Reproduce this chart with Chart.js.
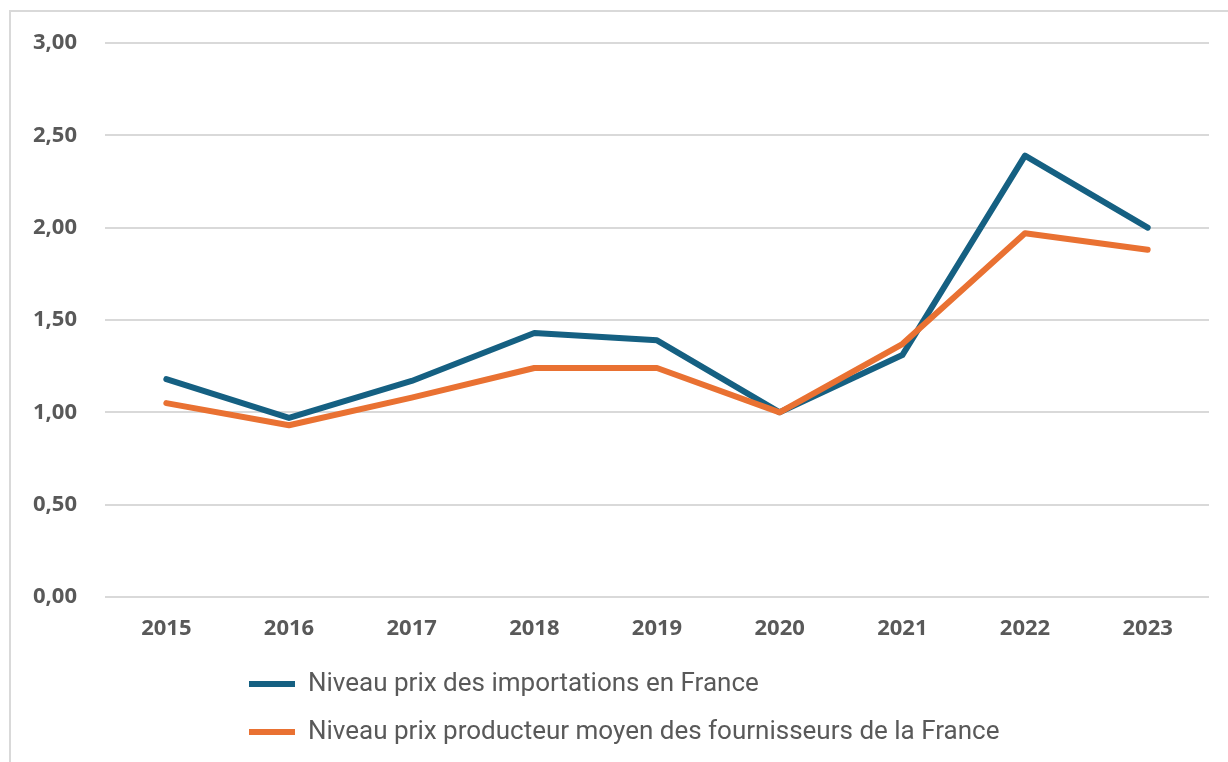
<!DOCTYPE html>
<html>
<head>
<meta charset="utf-8">
<script src="https://cdn.jsdelivr.net/npm/chart.js@4/dist/chart.umd.min.js"></script>
<style>
  html, body { margin: 0; padding: 0; background: #fff; }
  #wrap { position: relative; width: 1228px; height: 762px; }
  #frame { position: absolute; left: 9px; top: 10px; right: 0; bottom: 0;
           border-left: 2px solid #d9d9d9; border-top: 2px solid #d9d9d9; pointer-events: none; }
</style>
</head>
<body>
<div id="wrap">
  <canvas id="chart" width="1228" height="762"></canvas>
  <div id="frame"></div>
</div>
<script>
// --- DATA ---
const years = ['2015', '2016', '2017', '2018', '2019', '2020', '2021', '2022', '2023'];
const importPrices = [1.18, 0.97, 1.17, 1.43, 1.39, 1.00, 1.31, 2.39, 2.00];
const producerPrices = [1.05, 0.93, 1.08, 1.24, 1.24, 1.00, 1.37, 1.97, 1.88];
const seriesNames = ['Niveau prix des importations en France',
                     'Niveau prix producteur moyen des fournisseurs de la France'];

const grey = '#595959';

// push the legend rows to the right, like the Excel original
const legendShift = {
    id: 'legendShift',
    beforeDraw(chart) {
        const lg = chart.legend;
        if (lg) lg.left = 227;
    }
};

const ctx = document.getElementById('chart').getContext('2d');
new Chart(ctx, {
    type: 'line',
    data: {
        labels: years,
        datasets: [
            { label: seriesNames[0], data: importPrices, borderColor: '#156082', backgroundColor: '#156082',
              borderWidth: 6, pointRadius: 0, borderCapStyle: 'round', borderJoinStyle: 'round', order: 1 },
            { label: seriesNames[1], data: producerPrices, borderColor: '#E97132', backgroundColor: '#E97132',
              borderWidth: 6, pointRadius: 0, borderCapStyle: 'round', borderJoinStyle: 'round', order: 0 }
        ]
    },
    options: {
        responsive: false,
        animation: false,
        layout: { padding: { top: 43, left: 10, right: 19, bottom: 7 } },
        plugins: {
            tooltip: { enabled: false },
            legend: {
                position: 'bottom',
                align: 'start',
                labels: {
                    usePointStyle: true,
                    pointStyle: 'line',
                    pointStyleWidth: 46,
                    padding: 22,
                    color: grey,
                    font: { family: 'Roboto', size: 26 },
                    sort: (a, b) => a.datasetIndex - b.datasetIndex
                }
            }
        },
        scales: {
            x: {
                offset: true,
                grid: { display: false },
                border: { display: false },
                ticks: { color: grey, padding: 11, font: { family: 'Open Sans', size: 22, weight: 'bold' } },
                afterFit: s => { s.height = 52; }
            },
            y: {
                min: 0, max: 3,
                grid: { color: '#d9d9d9', lineWidth: 2, drawTicks: false },
                border: { display: false },
                ticks: {
                    stepSize: 0.5, padding: 28, color: grey,
                    font: { family: 'Open Sans', size: 22, weight: 'bold' },
                    callback: v => v.toFixed(2).replace('.', ',')
                },
                afterFit: s => { s.width = 95; }
            }
        }
    },
    plugins: [legendShift]
});
</script>
</body>
</html>
